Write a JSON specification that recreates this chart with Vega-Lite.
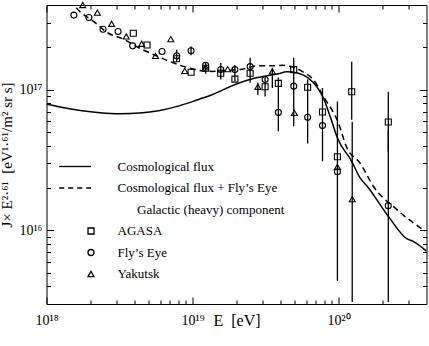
{
  "$schema": "https://vega.github.io/schema/vega-lite/v6.json",
  "width": 380,
  "height": 299,
  "autosize": "none",
  "padding": {"left": 46.5, "top": 5, "right": 2.5, "bottom": 42},
  "background": "white",
  "config": {
    "view": {"stroke": "black", "strokeWidth": 1},
    "font": "Liberation Serif",
    "axis": {
      "domain": false,
      "grid": false,
      "tickColor": "black",
      "tickWidth": 1,
      "labelColor": "black",
      "labelFont": "Liberation Serif",
      "labelFontSize": 14,
      "labelOverlap": false,
      "labelBound": false,
      "labelFlush": false,
      "titleColor": "black",
      "titleFont": "Liberation Serif",
      "titleFontWeight": "normal",
      "titleFontSize": 15
    }
  },
  "datasets": {
    "solid": [
      {"E": 1e18, "J": 7.92e16},
      {"E": 1.24e18, "J": 7.53e16},
      {"E": 1.70e18, "J": 7.13e16},
      {"E": 2.32e18, "J": 6.87e16},
      {"E": 3.18e18, "J": 6.76e16},
      {"E": 4.36e18, "J": 6.84e16},
      {"E": 5.98e18, "J": 7.13e16},
      {"E": 8.2e18, "J": 7.71e16},
      {"E": 1.12e19, "J": 8.59e16},
      {"E": 1.36e19, "J": 9.22e16},
      {"E": 1.96e19, "J": 1.09e17},
      {"E": 2.68e19, "J": 1.21e17},
      {"E": 3.87e19, "J": 1.30e17},
      {"E": 4.41e19, "J": 1.34e17},
      {"E": 5.31e19, "J": 1.31e17},
      {"E": 6.21e19, "J": 1.21e17},
      {"E": 7.1e19, "J": 1.05e17},
      {"E": 7.87e19, "J": 8.73e16},
      {"E": 8.75e19, "J": 6.47e16},
      {"E": 9.82e19, "J": 4.54e16},
      {"E": 1.23e20, "J": 3.10e16},
      {"E": 1.40e20, "J": 2.37e16},
      {"E": 1.57e20, "J": 2.06e16},
      {"E": 2.19e20, "J": 1.26e16},
      {"E": 2.93e20, "J": 8.73e15},
      {"E": 3.24e20, "J": 8.36e15},
      {"E": 4.0e20, "J": 7.13e15}
    ],
    "dashed": [
      {"E": 1.45e18, "J": 4.35e17},
      {"E": 1.61e18, "J": 3.79e17},
      {"E": 2.15e18, "J": 3.0e17},
      {"E": 2.65e18, "J": 2.52e17},
      {"E": 3.36e18, "J": 2.29e17},
      {"E": 4.32e18, "J": 1.98e17},
      {"E": 5.26e18, "J": 1.80e17},
      {"E": 6.75e18, "J": 1.61e17},
      {"E": 8.75e18, "J": 1.46e17},
      {"E": 1.04e19, "J": 1.39e17},
      {"E": 1.36e19, "J": 1.35e17},
      {"E": 1.72e19, "J": 1.37e17},
      {"E": 2.17e19, "J": 1.40e17},
      {"E": 2.82e19, "J": 1.48e17},
      {"E": 3.48e19, "J": 1.48e17},
      {"E": 4.17e19, "J": 1.49e17},
      {"E": 5.04e19, "J": 1.43e17},
      {"E": 5.90e19, "J": 1.31e17},
      {"E": 6.72e19, "J": 1.18e17},
      {"E": 7.87e19, "J": 8.96e16},
      {"E": 9.97e19, "J": 5.81e16},
      {"E": 1.14e20, "J": 3.86e16},
      {"E": 1.40e20, "J": 3.02e16},
      {"E": 1.73e20, "J": 2.06e16},
      {"E": 2.50e20, "J": 1.41e16},
      {"E": 3.91e20, "J": 9.89e15}
    ],
    "errors": [
      {"E": 7.79e18, "lo": 1.58e17, "hi": 1.92e17},
      {"E": 9.77e18, "lo": 1.76e17, "hi": 2.03e17},
      {"E": 1.23e19, "lo": 1.30e17, "hi": 1.55e17},
      {"E": 1.56e19, "lo": 1.18e17, "hi": 1.55e17},
      {"E": 1.95e19, "lo": 1.15e17, "hi": 1.50e17},
      {"E": 2.48e19, "lo": 1.12e17, "hi": 1.69e17},
      {"E": 2.80e19, "lo": 9.22e16, "hi": 1.12e17},
      {"E": 3.14e19, "lo": 8.96e16, "hi": 1.24e17},
      {"E": 3.52e19, "lo": 1.03e17, "hi": 1.43e17},
      {"E": 3.87e19, "lo": 5.06e16, "hi": 1.22e17},
      {"E": 4.93e19, "lo": 5.50e16, "hi": 1.69e17},
      {"E": 6.14e19, "lo": 4.14e16, "hi": 1.18e17},
      {"E": 7.76e19, "lo": 3.10e16, "hi": 1.03e17},
      {"E": 9.82e19, "lo": 4.37e15, "hi": 8.26e16},
      {"E": 1.23e20, "lo": 6.12e16, "hi": 1.58e17},
      {"E": 1.24e20, "lo": 3.1e15, "hi": 5.93e16},
      {"E": 2.19e20, "lo": 3.63e16, "hi": 9.68e16},
      {"E": 2.19e20, "lo": 3.1e15, "hi": 5.12e16}
    ],
    "points": [
      {"E": 3.93e18, "J": 2.52e17, "exp": "AGASA"},
      {"E": 4.88e18, "J": 2.08e17, "exp": "AGASA"},
      {"E": 7.76e18, "J": 1.66e17, "exp": "AGASA"},
      {"E": 9.77e18, "J": 1.33e17, "exp": "AGASA"},
      {"E": 1.23e19, "J": 1.42e17, "exp": "AGASA"},
      {"E": 1.56e19, "J": 1.31e17, "exp": "AGASA"},
      {"E": 1.95e19, "J": 1.19e17, "exp": "AGASA"},
      {"E": 2.48e19, "J": 1.31e17, "exp": "AGASA"},
      {"E": 3.14e19, "J": 1.05e17, "exp": "AGASA"},
      {"E": 3.87e19, "J": 1.11e17, "exp": "AGASA"},
      {"E": 4.93e19, "J": 1.39e17, "exp": "AGASA"},
      {"E": 6.14e19, "J": 1.04e17, "exp": "AGASA"},
      {"E": 7.76e19, "J": 6.95e16, "exp": "AGASA"},
      {"E": 9.82e19, "J": 3.34e16, "exp": "AGASA"},
      {"E": 1.23e20, "J": 9.68e16, "exp": "AGASA"},
      {"E": 2.19e20, "J": 5.90e16, "exp": "AGASA"},
      {"E": 1.54e18, "J": 3.39e17, "exp": "Fly’s Eye"},
      {"E": 1.95e18, "J": 3.26e17, "exp": "Fly’s Eye"},
      {"E": 2.44e18, "J": 2.69e17, "exp": "Fly’s Eye"},
      {"E": 3.09e18, "J": 2.59e17, "exp": "Fly’s Eye"},
      {"E": 3.89e18, "J": 2.05e17, "exp": "Fly’s Eye"},
      {"E": 6.18e18, "J": 1.87e17, "exp": "Fly’s Eye"},
      {"E": 7.79e18, "J": 1.74e17, "exp": "Fly’s Eye"},
      {"E": 9.77e18, "J": 1.89e17, "exp": "Fly’s Eye"},
      {"E": 1.23e19, "J": 1.49e17, "exp": "Fly’s Eye"},
      {"E": 1.56e19, "J": 1.39e17, "exp": "Fly’s Eye"},
      {"E": 1.95e19, "J": 1.39e17, "exp": "Fly’s Eye"},
      {"E": 2.48e19, "J": 1.46e17, "exp": "Fly’s Eye"},
      {"E": 3.14e19, "J": 1.18e17, "exp": "Fly’s Eye"},
      {"E": 3.87e19, "J": 6.90e16, "exp": "Fly’s Eye"},
      {"E": 4.93e19, "J": 1.06e17, "exp": "Fly’s Eye"},
      {"E": 6.14e19, "J": 6.37e16, "exp": "Fly’s Eye"},
      {"E": 7.76e19, "J": 5.56e16, "exp": "Fly’s Eye"},
      {"E": 9.82e19, "J": 2.61e16, "exp": "Fly’s Eye"},
      {"E": 2.19e20, "J": 1.50e16, "exp": "Fly’s Eye"},
      {"E": 1.77e18, "J": 4.0e17, "exp": "Yakutsk"},
      {"E": 2.23e18, "J": 3.53e17, "exp": "Yakutsk"},
      {"E": 2.79e18, "J": 2.94e17, "exp": "Yakutsk"},
      {"E": 3.52e18, "J": 2.39e17, "exp": "Yakutsk"},
      {"E": 4.48e18, "J": 2.12e17, "exp": "Yakutsk"},
      {"E": 5.58e18, "J": 1.74e17, "exp": "Yakutsk"},
      {"E": 7.1e18, "J": 2.29e17, "exp": "Yakutsk"},
      {"E": 8.85e18, "J": 1.36e17, "exp": "Yakutsk"},
      {"E": 1.23e19, "J": 1.44e17, "exp": "Yakutsk"},
      {"E": 1.74e19, "J": 1.40e17, "exp": "Yakutsk"},
      {"E": 2.80e19, "J": 1.05e17, "exp": "Yakutsk"},
      {"E": 3.52e19, "J": 1.35e17, "exp": "Yakutsk"},
      {"E": 4.98e19, "J": 6.84e16, "exp": "Yakutsk"},
      {"E": 9.82e19, "J": 2.83e16, "exp": "Yakutsk"},
      {"E": 1.24e20, "J": 1.67e16, "exp": "Yakutsk"}
    ]
  },
  "layer": [
    {
      "data": {"name": "solid"},
      "mark": {"type": "line", "color": "black", "strokeWidth": 1.5, "clip": true, "interpolate": "monotone"},
      "encoding": {
        "x": {
          "field": "E", "type": "quantitative",
          "scale": {"type": "log", "domain": [1e18, 4e20], "nice": false},
          "axis": {
            "orient": "bottom",
            "values": [1e18, 2e18, 3e18, 4e18, 5e18, 6e18, 7e18, 8e18, 9e18, 1e19, 2e19, 3e19, 4e19, 5e19, 6e19, 7e19, 8e19, 9e19, 1e20, 2e20, 3e20],
            "tickSize": {"condition": {"test": "abs(log(datum.value)/LN10 - round(log(datum.value)/LN10)) < 0.01", "value": -7}, "value": -4},
            "labelExpr": "datum.value == 1e18 ? '10¹⁸' : datum.value == 1e19 ? '10¹⁹' : datum.value == 1e20 ? '10²⁰' : ''",
            "labelPadding": 27,
            "labelBaseline": "alphabetic",
            "title": "E\u00a0 [eV]",
            "titleFontSize": 16,
            "titleBaseline": "alphabetic",
            "titleY": 21
          }
        },
        "y": {
          "field": "J", "type": "quantitative",
          "scale": {"type": "log", "domain": [3e15, 4e17], "nice": false},
          "axis": {
            "orient": "left",
            "values": [4e15, 5e15, 6e15, 7e15, 8e15, 9e15, 1e16, 2e16, 3e16, 4e16, 5e16, 6e16, 7e16, 8e16, 9e16, 1e17, 2e17, 3e17],
            "tickSize": {"condition": {"test": "abs(log(datum.value)/LN10 - round(log(datum.value)/LN10)) < 0.01", "value": -7}, "value": -4},
            "labelExpr": "datum.value == 1e16 ? '10¹⁶' : datum.value == 1e17 ? '10¹⁷' : ''",
            "labelPadding": 11.5,
            "title": "J× E²·⁶¹\u00a0 [eV¹·⁶¹/m² sr s]",
            "titlePadding": 4
          }
        }
      }
    },
    {
      "data": {"name": "dashed"},
      "mark": {"type": "line", "color": "black", "strokeWidth": 1.5, "strokeDash": [6, 4], "clip": true, "interpolate": "monotone"},
      "encoding": {
        "x": {
          "field": "E", "type": "quantitative",
          "axis": {
            "orient": "top",
            "values": [1e18, 2e18, 3e18, 4e18, 5e18, 6e18, 7e18, 8e18, 9e18, 1e19, 2e19, 3e19, 4e19, 5e19, 6e19, 7e19, 8e19, 9e19, 1e20, 2e20, 3e20],
            "tickSize": {"condition": {"test": "abs(log(datum.value)/LN10 - round(log(datum.value)/LN10)) < 0.01", "value": -7}, "value": -4},
            "labels": false,
            "title": null
          }
        },
        "y": {
          "field": "J", "type": "quantitative",
          "axis": {
            "orient": "right",
            "values": [4e15, 5e15, 6e15, 7e15, 8e15, 9e15, 1e16, 2e16, 3e16, 4e16, 5e16, 6e16, 7e16, 8e16, 9e16, 1e17, 2e17, 3e17],
            "tickSize": {"condition": {"test": "abs(log(datum.value)/LN10 - round(log(datum.value)/LN10)) < 0.01", "value": -7}, "value": -4},
            "labels": false,
            "title": null
          }
        }
      }
    },
    {
      "data": {"name": "errors"},
      "mark": {"type": "rule", "color": "black", "strokeWidth": 1.3, "clip": true},
      "encoding": {
        "x": {"field": "E", "type": "quantitative", "axis": null},
        "y": {"field": "lo", "type": "quantitative", "axis": null},
        "y2": {"field": "hi"}
      }
    },
    {
      "data": {"name": "points"},
      "mark": {"type": "point", "filled": false, "size": 36, "strokeWidth": 1.1, "color": "black", "opacity": 1},
      "encoding": {
        "x": {"field": "E", "type": "quantitative", "axis": null},
        "y": {"field": "J", "type": "quantitative", "axis": null},
        "shape": {
          "field": "exp", "type": "nominal",
          "scale": {
            "domain": ["Cosmological flux", "Cosmological flux + Fly’s Eye", "Galactic (heavy) component", "AGASA", "Fly’s Eye", "Yakutsk"],
            "range": ["M-10.6,0H0", "M-10.6,0H-8.9M-7.6,0H-5.9M-4.6,0H-2.9M-1.6,0H0", "M0,0", "square", "circle", "triangle-up"]
          },
          "legend": {
            "orient": "none",
            "legendX": 38,
            "legendY": 155,
            "title": null,
            "padding": 0,
            "labelFont": "Liberation Serif",
            "labelFontSize": 13,
            "labelColor": "black",
            "labelLimit": 0,
            "labelOffset": 20,
            "rowPadding": 7.5,
            "symbolSize": 36,
            "symbolStrokeColor": "black",
            "symbolFillColor": "transparent",
            "symbolStrokeWidth": 1.3,
            "labelExpr": "indexof(datum.label, 'Galactic') == 0 ? '\u200b\u2003\u2002' + datum.label : datum.label"
          }
        }
      }
    }
  ],
  "resolve": {"axis": {"x": "independent", "y": "independent"}}
}
